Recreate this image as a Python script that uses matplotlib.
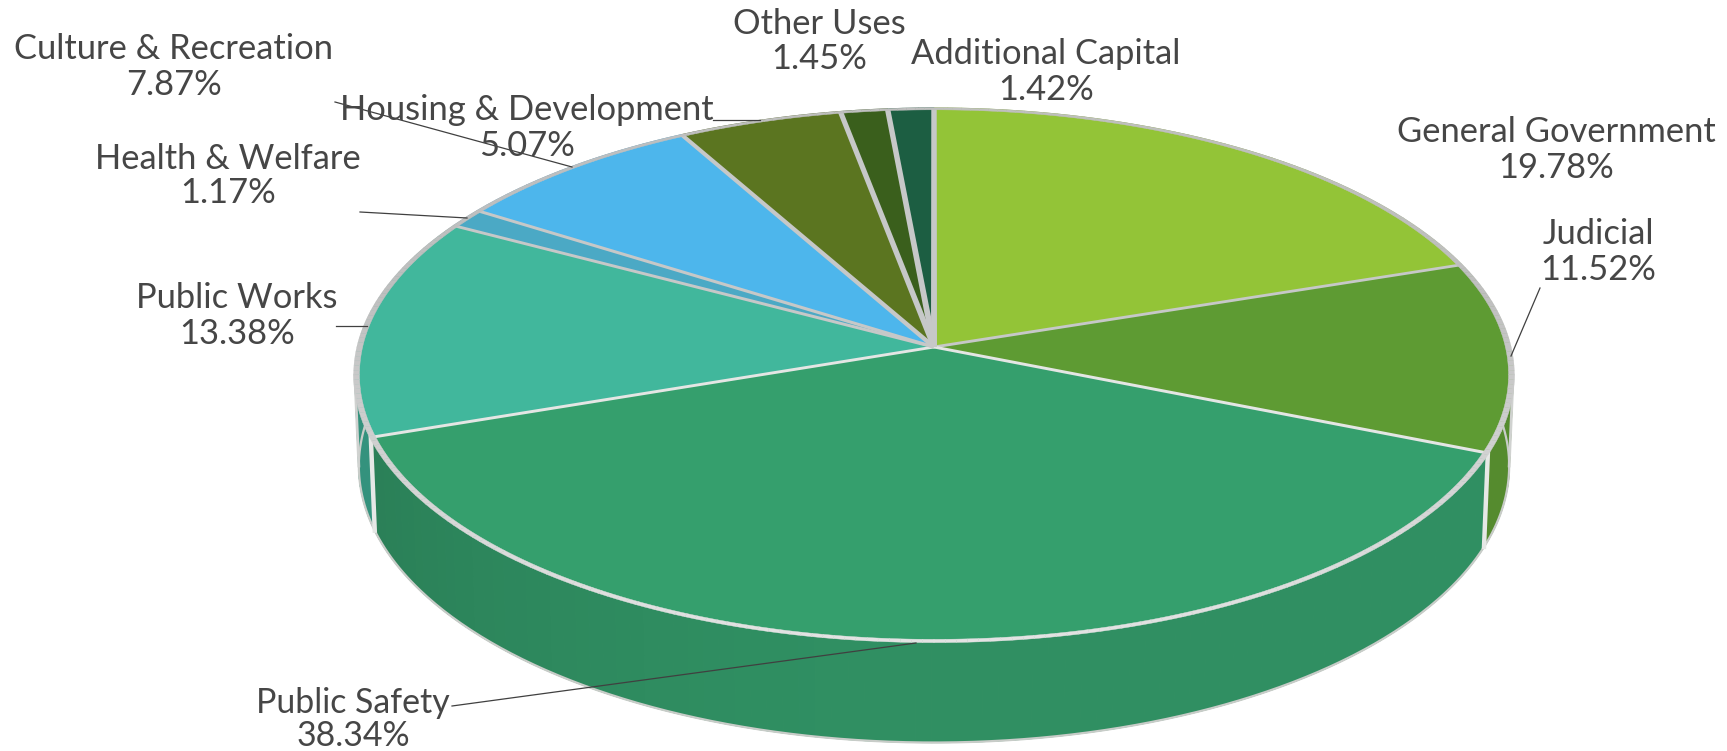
import numpy as np
import matplotlib
matplotlib.use("Agg")
import matplotlib.pyplot as plt
from matplotlib.patches import Polygon
from matplotlib.colors import to_rgb

categories = ["General Government", "Judicial", "Public Safety", "Public Works",
              "Health & Welfare", "Culture & Recreation", "Housing & Development",
              "Other Uses", "Additional Capital"]
values = [19.78, 11.52, 38.34, 13.38, 1.17, 7.87, 5.07, 1.45, 1.42]
colors = ["#93C437", "#5E9B33", "#359F6D", "#41B79C", "#4BA9C5",
          "#4DB6EC", "#5B7520", "#3A5F1C", "#1C5E42"]

W, H = 1727, 751
CX, CY, A, B, K = 934.0, 347.0, 576.0, 264.0, 0.105
DEPTH, BOTTOM_SCALE = 90.0, 0.993

fig = plt.figure(figsize=(W / 100, H / 100), dpi=100, facecolor="white")
ax = fig.add_axes([0, 0, 1, 1])
ax.set_xlim(0, W)
ax.set_ylim(H, 0)
ax.axis("off")


def project(u, v):
    u, v = np.asarray(u, float), np.asarray(v, float)
    w = 1 + K * v
    return CX + A * u / w, CY - B * v / w


def project_low(u, v):
    x, y = project(u, v)
    w = 1 + K * np.asarray(v, float)
    return CX + (x - CX) * BOTTOM_SCALE, y + DEPTH / w


def add_world(u, v, **kw):
    x, y = project(u, v)
    ax.add_patch(Polygon(np.column_stack([x, y]), closed=True, **kw))


fractions = np.array(values) / sum(values)
edges = np.concatenate([[0], np.cumsum(fractions)]) * 2 * np.pi  # clockwise from top

# side wall, far strips first
strips = []
for i, c in enumerate(colors):
    n = max(2, int((edges[i + 1] - edges[i]) / np.radians(1.5)))
    th = np.linspace(edges[i], edges[i + 1], n + 1)
    for a0, a1 in zip(th[:-1], th[1:]):
        strips.append((np.cos((a0 + a1) / 2), a0, a1, c))
for vm, a0, a1, c in sorted(strips, key=lambda s: -s[0]):
    u = np.sin([a0, a1])
    v = np.cos([a0, a1])
    xt, yt = project(u, v)
    xb, yb = project_low(u, v)
    um = np.sin((a0 + a1) / 2)
    shade = 0.90 if um >= 0 else 0.90 - 0.10 * min(1, -um * 1.05) ** 2
    col = tuple(np.array(to_rgb(c)) * shade)
    ax.add_patch(Polygon([(xt[0], yt[0]), (xt[1], yt[1]), (xb[1], yb[1]), (xb[0], yb[0])],
                         closed=True, fc=col, ec=col, lw=0.9, zorder=1))

# outer lower rim and silhouette / corner posts on the wall
th = np.linspace(0, 2 * np.pi, 721)
xb, yb = project_low(np.sin(th), np.cos(th))
ax.plot(xb, yb, color="#C8CCC8", lw=1.6, zorder=2)
for a in [np.arccos(-K), 2 * np.pi - np.arccos(-K)]:
    x0, y0 = project(np.sin(a), np.cos(a))
    x1, y1 = project_low(np.sin(a), np.cos(a))
    ax.plot([x0, x1], [y0, y1], color="#D0D2D0", lw=2.0, zorder=2)
for a in edges[:-1]:
    if np.cos(a) < -0.1:
        x0, y0 = project(np.sin(a), np.cos(a))
        x1, y1 = project_low(np.sin(a), np.cos(a))
        ax.plot([x0, x1], [y0, y1], color="#E6E8E6", lw=3.2, zorder=2)

# top faces
for i, c in enumerate(colors):
    t = np.linspace(edges[i], edges[i + 1], 120)
    add_world(np.r_[0, np.sin(t)], np.r_[0, np.cos(t)], fc=c, ec=c, lw=0.4, zorder=3)

# bevel drawn in the plane of the disc, so perspective sets its apparent width
half = 0.0052
for a in edges[:-1]:
    ux, vx = np.sin(a), np.cos(a)
    px, py = np.cos(a), -np.sin(a)
    col = "#C6C8C8" if vx > 0.2 else "#E4E6E4"
    add_world([px * half, ux + px * half, ux - px * half, -px * half],
              [py * half, vx + py * half, vx - py * half, -py * half],
              fc=col, ec="none", zorder=4)
ring_in, ring_out = 0.992, 1.002
seg = np.linspace(0, 2 * np.pi, 361)
for a0, a1 in zip(seg[:-1], seg[1:]):
    s = np.array([a0, a1])
    vm = np.cos((a0 + a1) / 2)
    g = np.interp(vm, [-1, -0.4, 0.2], [0.89, 0.82, 0.75])
    add_world(np.r_[ring_out * np.sin(s), ring_in * np.sin(s[::-1])],
              np.r_[ring_out * np.cos(s), ring_in * np.cos(s[::-1])],
              fc=(g, g, g), ec=(g, g, g), lw=0.3, zorder=5)

# leader lines
leaders = [((1540, 288), (1511, 356)), ((452, 706), (916, 643)), ((336, 326), (367, 326)),
           ((360, 212), (467, 218)), ((335, 102), (572, 167)), ((713, 120), (760, 120))]
for p, q in leaders:
    ax.plot([p[0], q[0]], [p[1], q[1]], color="#404040", lw=0.9, zorder=6)

# labels: centre x, first line y, second line y (reference pixels)
label_pos = [(1556, 132, 168), (1598, 234, 270), (353, 703, 736), (237, 298, 334),
             (228, 159, 193), (174, 49, 85), (527, 110, 146), (819, 24, 59), (1046, 54, 90)]
sizes = [24.8, 24.8, 24.4, 24.8, 24.8, 24.8, 24.8, 24.8, 24.8]
for name, val, (x, y1, y2), fs in zip(categories, values, label_pos, sizes):
    ax.text(x, y1, name, ha="center", va="center", family="Lato", fontsize=fs,
            color="#464646", zorder=7)
    ax.text(x, y2, f"{val:.2f}%", ha="center", va="center", family="Lato", fontsize=fs,
            color="#464646", zorder=7)

fig.savefig("out.png", dpi=100, facecolor="white")
